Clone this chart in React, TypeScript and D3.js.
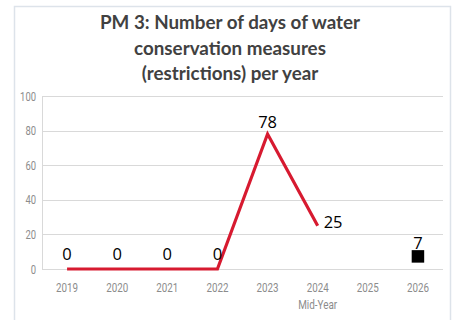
import React from "react";
import * as d3 from "d3";

const years = ["2019", "2020", "2021", "2022", "2023", "2024", "2025", "2026"];
const subLabels = ["", "", "", "", "", "Mid-Year", "", ""];
const actualYears = ["2019", "2020", "2021", "2022", "2023", "2024"];
const actualValues = [0, 0, 0, 0, 78, 25];
const targetYears = ["2026"];
const targetValues = [7];
const yTicks = [0, 20, 40, 60, 80, 100];
const titleLines = [
  "PM 3: Number of days of water",
  "conservation measures",
  "(restrictions) per year",
];

const W = 453;
const H = 320;

export default function App() {
  const x = d3.scaleBand<string>().domain(years).range([42, 443]).padding(0);
  const y = d3.scaleLinear().domain([0, 100]).range([269, 96]);
  const cx = (d: string) => (x(d) ?? 0) + x.bandwidth() / 2;

  const line = d3
    .line<number>()
    .x((_, i) => cx(actualYears[i]))
    .y((d) => y(d));

  const axisFont = "Roboto, sans-serif";
  const sq = 12.5;

  return (
    <svg
      width={W}
      height={H}
      style={{ position: "absolute", left: 0, top: 0, background: "#fff" }}
    >
      <rect x={14.5} y={6.5} width={436} height={340} fill="#fff" stroke="#dde3ea" strokeWidth={1.5} />
      {titleLines.map((t, i) => (
        <text
          key={i}
          x={230}
          y={29 + i * 25.5}
          textAnchor="middle"
          fontFamily="Lato, 'Open Sans', sans-serif"
          fontWeight={700}
          fontSize={18.8}
          fill="#414141"
        >
          {t}
        </text>
      ))}
      {yTicks.map((t) => (
        <g key={t}>
          <line
            x1={42}
            x2={443}
            y1={Math.round(y(t)) + 0.5}
            y2={Math.round(y(t)) + 0.5}
            stroke="#d9d9d9"
            strokeWidth={1}
          />
          <text
            x={36}
            y={y(t) + 4.5}
            textAnchor="end"
            fontFamily={axisFont}
            fontSize={12.5}
            fill="#8c8c8c"
            textLength={String(t).length * 5.3}
            lengthAdjust="spacingAndGlyphs"
          >
            {t}
          </text>
        </g>
      ))}
      <line x1={42.5} x2={42.5} y1={y(100)} y2={y(0)} stroke="#d9d9d9" strokeWidth={1} />
      {years.map((yr, i) => (
        <g key={yr}>
          <text
            x={cx(yr)}
            y={292}
            textAnchor="middle"
            fontFamily={axisFont}
            fontSize={13.5}
            fill="#8c8c8c"
            textLength={22}
            lengthAdjust="spacingAndGlyphs"
          >
            {yr}
          </text>
          {subLabels[i] && (
            <text
              x={cx(yr)}
              y={309}
              textAnchor="middle"
              fontFamily={axisFont}
              fontSize={13.5}
              fill="#8c8c8c"
              textLength={39}
              lengthAdjust="spacingAndGlyphs"
            >
              {subLabels[i]}
            </text>
          )}
        </g>
      ))}
      <path
        d={line(actualValues) ?? ""}
        fill="none"
        stroke="#d71a30"
        strokeWidth={3.2}
        strokeLinejoin="miter"
      />
      {actualValues.map((v, i) => {
        const px = cx(actualYears[i]);
        const py = y(v);
        const isLast = i === actualValues.length - 1;
        return (
          <text
            key={i}
            x={isLast ? px + 6 : px}
            y={isLast ? py + 2 : py - (v === 0 ? 9 : 6)}
            textAnchor={isLast ? "start" : "middle"}
            fontFamily="'Open Sans', sans-serif"
            fontSize={16.5}
            fill="#000"
          >
            {v}
          </text>
        );
      })}
      {targetValues.map((v, i) => {
        const px = cx(targetYears[i]);
        const py = y(v);
        return (
          <g key={i}>
            <rect x={px - sq / 2} y={py - sq / 2 - 0.5} width={sq} height={sq} fill="#000" />
            <text
              x={px}
              y={py - sq / 2 - 2}
              textAnchor="middle"
              fontFamily="'Open Sans', sans-serif"
              fontSize={16.5}
              fill="#000"
            >
              {v}
            </text>
          </g>
        );
      })}
    </svg>
  );
}
